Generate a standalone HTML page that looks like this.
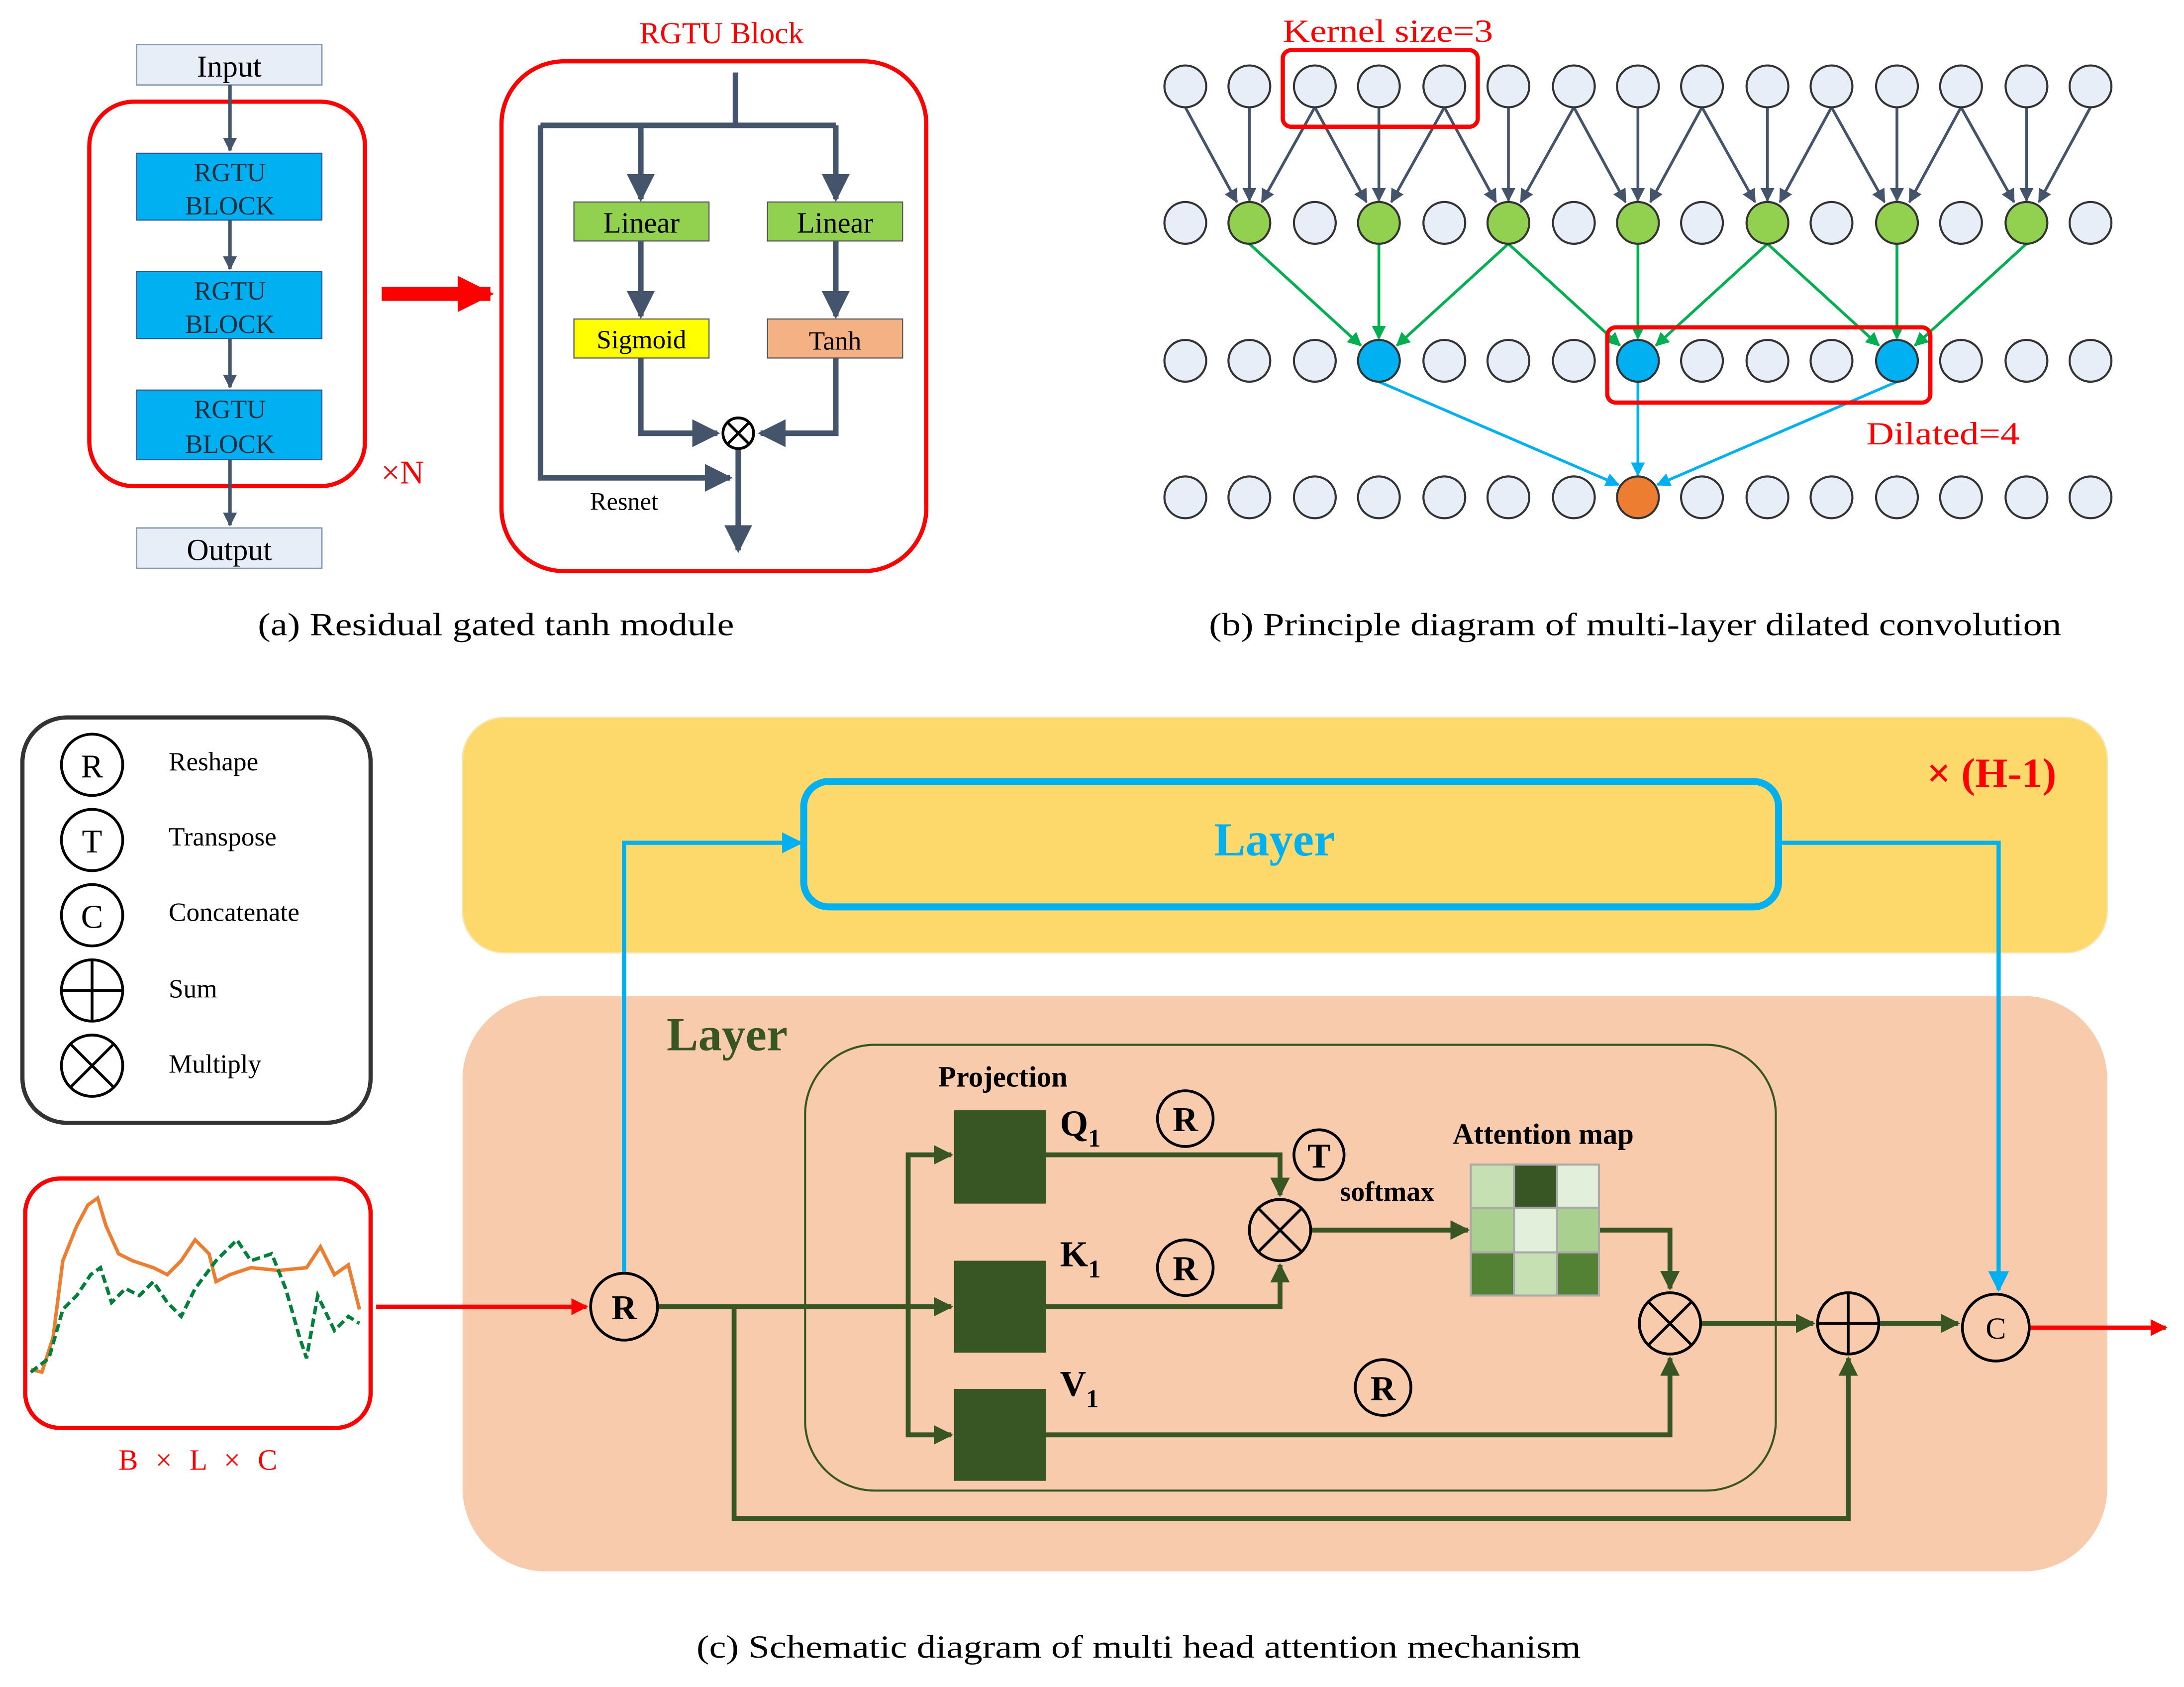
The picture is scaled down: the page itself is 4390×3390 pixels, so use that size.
<!DOCTYPE html>
<html><head><meta charset="utf-8"><style>html,body{margin:0;padding:0;background:#fff}svg{display:block}</style></head>
<body>
<svg width="4390" height="3390" viewBox="0 0 1568 1211" xmlns="http://www.w3.org/2000/svg" font-family="Liberation Serif, serif">
<defs>
<marker id="ad" viewBox="0 0 10 10" refX="9" refY="5" markerWidth="4" markerHeight="4" orient="auto"><path d="M0,0L10,5L0,10z" fill="#44546a"/></marker>
<marker id="ag" viewBox="0 0 10 10" refX="9" refY="5" markerWidth="4" markerHeight="4" orient="auto"><path d="M0,0L10,5L0,10z" fill="#375623"/></marker>
<marker id="ab" viewBox="0 0 10 10" refX="9" refY="5" markerWidth="5" markerHeight="5" orient="auto"><path d="M0,0L10,5L0,10z" fill="#00b0f0"/></marker>
<marker id="ar" viewBox="0 0 10 10" refX="9" refY="5" markerWidth="4" markerHeight="4" orient="auto"><path d="M0,0L10,5L0,10z" fill="#ff0000"/></marker>
<marker id="ar2" viewBox="0 0 10 10" refX="9" refY="5" markerWidth="2.6" markerHeight="2.6" orient="auto"><path d="M0,0L10,5L0,10z" fill="#ff0000"/></marker>
<marker id="agr" viewBox="0 0 10 10" refX="9" refY="5" markerWidth="5" markerHeight="5" orient="auto"><path d="M0,0L10,5L0,10z" fill="#00b050"/></marker>
<marker id="ak" viewBox="0 0 10 10" refX="9" refY="5" markerWidth="5" markerHeight="5" orient="auto"><path d="M0,0L10,5L0,10z" fill="#44546a"/></marker>
</defs>

<!-- (a) -->
<rect x="98" y="32" width="133" height="29" fill="#e8eef8" stroke="#8497b0"/>
<text x="164.5" y="55" font-size="22" text-anchor="middle">Input</text>
<rect x="64" y="73" width="198" height="276" rx="32" fill="none" stroke="#ff0000" stroke-width="3"/>
<g stroke="#44546a" stroke-width="2.5" marker-end="url(#ad)">
<line x1="165" y1="61" x2="165" y2="108"/><line x1="165" y1="158" x2="165" y2="193"/><line x1="165" y1="243" x2="165" y2="278"/><line x1="165" y1="330" x2="165" y2="377"/></g>
<g fill="#00b0f0" stroke="#2f5597" stroke-width="0.8">
<rect x="98" y="110" width="133" height="48"/><rect x="98" y="195" width="133" height="48"/><rect x="98" y="280" width="133" height="50"/></g>
<g font-size="19" text-anchor="middle" fill="#1f2d3d">
<text x="165" y="130">RGTU</text><text x="165" y="154">BLOCK</text>
<text x="165" y="215">RGTU</text><text x="165" y="239">BLOCK</text>
<text x="165" y="300">RGTU</text><text x="165" y="325">BLOCK</text></g>
<rect x="98" y="379" width="133" height="29" fill="#e8eef8" stroke="#8497b0"/>
<text x="164.5" y="402" font-size="22" text-anchor="middle">Output</text>
<text x="289" y="347" font-size="24" fill="#ff0000" text-anchor="middle">×N</text>
<line x1="274" y1="211" x2="352" y2="211" stroke="#ff0000" stroke-width="10" marker-end="url(#ar2)"/>
<text x="518" y="31" font-size="22" fill="#ff0000" text-anchor="middle">RGTU Block</text>
<rect x="360" y="44" width="305" height="366" rx="45" fill="none" stroke="#ff0000" stroke-width="3"/>
<g stroke="#44546a" stroke-width="4" fill="none">
<polyline points="528,52 528,90"/><polyline points="388,90 600,90"/>
<polyline points="388,90 388,343 524,343" marker-end="url(#ak)"/>
<polyline points="460,90 460,143" marker-end="url(#ak)"/>
<polyline points="600,90 600,143" marker-end="url(#ak)"/>
<polyline points="460,173 460,227" marker-end="url(#ak)"/>
<polyline points="600,173 600,227" marker-end="url(#ak)"/>
<polyline points="460,257 460,311 515,311" marker-end="url(#ak)"/>
<polyline points="600,257 600,311 546,311" marker-end="url(#ak)"/>
<polyline points="530,323 530,395" marker-end="url(#ak)"/>
</g>
<rect x="412" y="145" width="97" height="28" fill="#92d050" stroke="#555" stroke-width="0.8"/>
<rect x="551" y="145" width="97" height="28" fill="#92d050" stroke="#555" stroke-width="0.8"/>
<rect x="412" y="229" width="97" height="28" fill="#ffff00" stroke="#555" stroke-width="0.8"/>
<rect x="551" y="229" width="97" height="28" fill="#f4b183" stroke="#555" stroke-width="0.8"/>
<text x="460.5" y="167" font-size="21" text-anchor="middle">Linear</text>
<text x="599.5" y="167" font-size="21" text-anchor="middle">Linear</text>
<text x="460.5" y="250" font-size="19" text-anchor="middle">Sigmoid</text>
<text x="599.5" y="251" font-size="19" text-anchor="middle">Tanh</text>
<circle cx="530" cy="311" r="11" fill="#fff" stroke="#000" stroke-width="2"/>
<path d="M522,303L538,319M538,303L522,319" stroke="#000" stroke-width="2"/>
<text x="448" y="366" font-size="18" text-anchor="middle">Resnet</text>
<text x="185" y="456" font-size="23" textLength="342" lengthAdjust="spacingAndGlyphs">(a) Residual gated tanh module</text>

<!-- (b) -->
<g stroke="#44546a" stroke-width="2" marker-end="url(#ak)">
<line x1="851" y1="77" x2="888" y2="145"/><line x1="897" y1="77" x2="897" y2="144"/><line x1="944" y1="77" x2="906" y2="145"/>
<line x1="944" y1="77" x2="981" y2="145"/><line x1="990" y1="77" x2="990" y2="144"/><line x1="1037" y1="77" x2="999" y2="145"/>
<line x1="1037" y1="77" x2="1074" y2="145"/><line x1="1083" y1="77" x2="1083" y2="144"/><line x1="1130" y1="77" x2="1092" y2="145"/>
<line x1="1130" y1="77" x2="1167" y2="145"/><line x1="1176" y1="77" x2="1176" y2="144"/><line x1="1222" y1="77" x2="1185" y2="145"/>
<line x1="1222" y1="77" x2="1260" y2="145"/><line x1="1269" y1="77" x2="1269" y2="144"/><line x1="1315" y1="77" x2="1278" y2="145"/>
<line x1="1315" y1="77" x2="1353" y2="145"/><line x1="1362" y1="77" x2="1362" y2="144"/><line x1="1408" y1="77" x2="1371" y2="145"/>
<line x1="1408" y1="77" x2="1446" y2="145"/><line x1="1455" y1="77" x2="1455" y2="144"/><line x1="1501" y1="77" x2="1464" y2="145"/>
</g>
<g stroke="#00b050" stroke-width="2" marker-end="url(#agr)">
<line x1="897" y1="175" x2="977" y2="248"/><line x1="990" y1="175" x2="990" y2="243"/><line x1="1083" y1="175" x2="1003" y2="248"/>
<line x1="1083" y1="175" x2="1163" y2="248"/><line x1="1176" y1="175" x2="1176" y2="243"/><line x1="1269" y1="175" x2="1189" y2="248"/>
<line x1="1269" y1="175" x2="1349" y2="248"/><line x1="1362" y1="175" x2="1362" y2="243"/><line x1="1455" y1="175" x2="1375" y2="248"/>
</g>
<g stroke="#00b0f0" stroke-width="2" marker-end="url(#ab)">
<line x1="990" y1="274" x2="1162" y2="348"/><line x1="1176" y1="274" x2="1176" y2="341"/><line x1="1362" y1="274" x2="1190" y2="348"/>
</g>
<g stroke="#333" stroke-width="1.5" fill="#e8eef8">
<circle cx="851" cy="62" r="15"/><circle cx="897" cy="62" r="15"/><circle cx="944" cy="62" r="15"/><circle cx="990" cy="62" r="15"/><circle cx="1037" cy="62" r="15"/><circle cx="1083" cy="62" r="15"/><circle cx="1130" cy="62" r="15"/><circle cx="1176" cy="62" r="15"/><circle cx="1222" cy="62" r="15"/><circle cx="1269" cy="62" r="15"/><circle cx="1315" cy="62" r="15"/><circle cx="1362" cy="62" r="15"/><circle cx="1408" cy="62" r="15"/><circle cx="1455" cy="62" r="15"/><circle cx="1501" cy="62" r="15"/>
<circle cx="851" cy="160" r="15"/><circle cx="944" cy="160" r="15"/><circle cx="1037" cy="160" r="15"/><circle cx="1130" cy="160" r="15"/><circle cx="1222" cy="160" r="15"/><circle cx="1315" cy="160" r="15"/><circle cx="1408" cy="160" r="15"/><circle cx="1501" cy="160" r="15"/>
<circle cx="851" cy="259" r="15"/><circle cx="897" cy="259" r="15"/><circle cx="944" cy="259" r="15"/><circle cx="1037" cy="259" r="15"/><circle cx="1083" cy="259" r="15"/><circle cx="1130" cy="259" r="15"/><circle cx="1222" cy="259" r="15"/><circle cx="1269" cy="259" r="15"/><circle cx="1315" cy="259" r="15"/><circle cx="1408" cy="259" r="15"/><circle cx="1455" cy="259" r="15"/><circle cx="1501" cy="259" r="15"/>
<circle cx="851" cy="357" r="15"/><circle cx="897" cy="357" r="15"/><circle cx="944" cy="357" r="15"/><circle cx="990" cy="357" r="15"/><circle cx="1037" cy="357" r="15"/><circle cx="1083" cy="357" r="15"/><circle cx="1130" cy="357" r="15"/><circle cx="1222" cy="357" r="15"/><circle cx="1269" cy="357" r="15"/><circle cx="1315" cy="357" r="15"/><circle cx="1362" cy="357" r="15"/><circle cx="1408" cy="357" r="15"/><circle cx="1455" cy="357" r="15"/><circle cx="1501" cy="357" r="15"/>
</g>
<g stroke="#333" stroke-width="1.5" fill="#92d050">
<circle cx="897" cy="160" r="15"/><circle cx="990" cy="160" r="15"/><circle cx="1083" cy="160" r="15"/><circle cx="1176" cy="160" r="15"/><circle cx="1269" cy="160" r="15"/><circle cx="1362" cy="160" r="15"/><circle cx="1455" cy="160" r="15"/></g>
<g stroke="#333" stroke-width="1.5" fill="#00b0f0"><circle cx="990" cy="259" r="15"/><circle cx="1176" cy="259" r="15"/><circle cx="1362" cy="259" r="15"/></g>
<circle cx="1176" cy="357" r="15" fill="#ed7d31" stroke="#333" stroke-width="1.5"/>
<rect x="921" y="36" width="140" height="55" rx="6" fill="none" stroke="#ff0000" stroke-width="3"/>
<rect x="1154" y="235" width="232" height="54" rx="6" fill="none" stroke="#ff0000" stroke-width="3"/>
<text x="921" y="30" font-size="23" fill="#ff0000" textLength="151" lengthAdjust="spacingAndGlyphs">Kernel size=3</text>
<text x="1340" y="319" font-size="23" fill="#ff0000" textLength="110" lengthAdjust="spacingAndGlyphs">Dilated=4</text>
<text x="868" y="456" font-size="23" textLength="612" lengthAdjust="spacingAndGlyphs">(b) Principle diagram of multi-layer dilated convolution</text>

<!-- (c) legend -->
<rect x="16" y="515" width="250" height="291" rx="32" fill="#fff" stroke="#333" stroke-width="3"/>
<g fill="none" stroke="#000" stroke-width="2">
<circle cx="66" cy="549" r="22"/><circle cx="66" cy="603" r="22"/><circle cx="66" cy="657" r="22"/><circle cx="66" cy="711" r="22"/><circle cx="66" cy="765" r="22"/>
<path d="M44,711H88M66,689V733M50,749L82,781M82,749L50,781"/></g>
<g font-size="24" text-anchor="middle"><text x="66" y="558">R</text><text x="66" y="612">T</text><text x="66" y="666">C</text></g>
<g font-size="19"><text x="121" y="553">Reshape</text><text x="121" y="607">Transpose</text><text x="121" y="661">Concatenate</text><text x="121" y="716">Sum</text><text x="121" y="770">Multiply</text></g>

<!-- signal -->
<rect x="18" y="846" width="248" height="179" rx="25" fill="#fff" stroke="#ff0000" stroke-width="3"/>
<polyline fill="none" stroke="#ed7d31" stroke-width="2.5" points="22,983 30,985 38,960 45,905 55,880 63,865 70,860 76,880 85,900 95,905 110,910 120,915 130,905 140,890 150,900 155,920 165,915 180,910 200,912 220,910 230,895 240,915 250,908 258,940"/>
<polyline fill="none" stroke="#00803a" stroke-width="2.5" stroke-dasharray="6,3" points="22,985 35,975 45,940 55,930 65,915 72,910 80,935 90,925 100,930 110,920 120,935 130,945 140,925 155,905 170,890 180,905 195,900 205,925 215,960 220,975 228,930 240,955 250,945 258,950"/>
<text x="85" y="1055" font-size="21" fill="#ff0000" textLength="114" lengthAdjust="spacing">B × L × C</text>

<!-- bands -->
<rect x="332" y="515" width="1181" height="169" rx="30" fill="#fdd86b" stroke="#f5e6b0"/>
<text x="1430" y="565" font-size="30" font-weight="bold" fill="#ff0000" text-anchor="middle">× (H-1)</text>
<rect x="577" y="561" width="700" height="90" rx="18" fill="none" stroke="#00b0f0" stroke-width="5"/>
<text x="915" y="614" font-size="34" font-weight="bold" fill="#00b0f0" text-anchor="middle">Layer</text>
<rect x="332" y="715" width="1181" height="413" rx="60" fill="#f8cbad"/>
<text x="522" y="754" font-size="34" font-weight="bold" fill="#375623" text-anchor="middle">Layer</text>
<rect x="578" y="750" width="697" height="320" rx="50" fill="none" stroke="#375623" stroke-width="1.5"/>

<line x1="270" y1="938" x2="421" y2="938" stroke="#ff0000" stroke-width="3" marker-end="url(#ar)"/>

<!-- blue connectors -->
<polyline points="448,913 448,605 575,605" fill="none" stroke="#00b0f0" stroke-width="3" marker-end="url(#ab)"/>
<polyline points="1277,605 1435,605 1435,926" fill="none" stroke="#00b0f0" stroke-width="3" marker-end="url(#ab)"/>

<!-- green connectors -->
<g fill="none" stroke="#375623" stroke-width="3.5">
<polyline points="473,938 683,938" marker-end="url(#ag)"/>
<polyline points="652,938 652,829 683,829" marker-end="url(#ag)"/>
<polyline points="652,938 652,1030 683,1030" marker-end="url(#ag)"/>
<polyline points="751,829 919,829 919,858" marker-end="url(#ag)"/>
<polyline points="751,938 919,938 919,908" marker-end="url(#ag)"/>
<polyline points="942,883 1054,883" marker-end="url(#ag)"/>
<polyline points="1148,883 1199,883 1199,925" marker-end="url(#ag)"/>
<polyline points="751,1030 1199,1030 1199,975" marker-end="url(#ag)"/>
<polyline points="1222,950 1302,950" marker-end="url(#ag)"/>
<polyline points="1350,950 1406,950" marker-end="url(#ag)"/>
<polyline points="527,938 527,1090 1327,1090 1327,975" marker-end="url(#ag)"/>
</g>
<line x1="1458" y1="953" x2="1555" y2="953" stroke="#ff0000" stroke-width="3" marker-end="url(#ar)"/>

<text x="720" y="780" font-size="21" font-weight="bold" text-anchor="middle">Projection</text>
<g fill="#375623"><rect x="685" y="797" width="66" height="67"/><rect x="685" y="905" width="66" height="66"/><rect x="685" y="997" width="66" height="66"/></g>
<g font-size="26" font-weight="bold"><text x="761" y="815">Q<tspan font-size="18" dy="8">1</tspan></text><text x="761" y="909">K<tspan font-size="18" dy="8">1</tspan></text><text x="761" y="1002">V<tspan font-size="18" dy="8">1</tspan></text></g>
<g fill="none" stroke="#000" stroke-width="2"><circle cx="851" cy="803" r="20"/><circle cx="851" cy="910" r="20"/><circle cx="993" cy="996" r="20"/><circle cx="947" cy="829" r="18"/></g>
<g font-size="25" font-weight="bold" text-anchor="middle"><text x="851" y="812">R</text><text x="851" y="919">R</text><text x="993" y="1005">R</text><text x="947" y="838">T</text></g>
<text x="996" y="862" font-size="20" font-weight="bold" text-anchor="middle">softmax</text>
<text x="1108" y="821" font-size="21" font-weight="bold" text-anchor="middle">Attention map</text>
<g stroke="#aaa" stroke-width="1.5">
<rect x="1056" y="836" width="31" height="31" fill="#c6e0b4"/><rect x="1087" y="836" width="31" height="31" fill="#375623"/><rect x="1118" y="836" width="30" height="31" fill="#e2efda"/>
<rect x="1056" y="867" width="31" height="32" fill="#a9d08e"/><rect x="1087" y="867" width="31" height="32" fill="#e2efda"/><rect x="1118" y="867" width="30" height="32" fill="#a9d08e"/>
<rect x="1056" y="899" width="31" height="31" fill="#548235"/><rect x="1087" y="899" width="31" height="31" fill="#c6e0b4"/><rect x="1118" y="899" width="30" height="31" fill="#548235"/></g>

<g fill="none" stroke="#000" stroke-width="2">
<circle cx="919" cy="883" r="22"/><path d="M903,867L935,899M935,867L903,899"/>
<circle cx="1199" cy="950" r="22"/><path d="M1183,934L1215,966M1215,934L1183,966"/>
<circle cx="1327" cy="950" r="22"/><path d="M1305,950H1349M1327,928V972"/>
<circle cx="1433" cy="953" r="24" fill="#f8cbad"/>
<circle cx="448" cy="938" r="24" fill="#f8cbad"/></g>
<text x="1433" y="961" font-size="22" text-anchor="middle">C</text>
<text x="448" y="947" font-size="25" font-weight="bold" text-anchor="middle">R</text>
<text x="500" y="1190" font-size="23" textLength="635" lengthAdjust="spacingAndGlyphs">(c) Schematic diagram of multi head attention mechanism</text>
</svg>
</body></html>
